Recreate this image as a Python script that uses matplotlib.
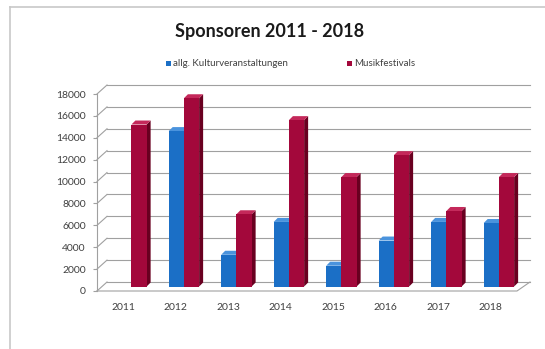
import matplotlib
matplotlib.use("Agg")
import matplotlib.pyplot as plt
import matplotlib.transforms as mtransforms
from matplotlib.patches import Polygon, Rectangle
from matplotlib.lines import Line2D
import numpy as np

years = ["2011", "2012", "2013", "2014", "2015", "2016", "2017", "2018"]
kultur = [0, 14200, 2900, 5900, 1900, 4200, 5900, 5800]
musik = [14800, 17200, 6600, 15200, 10000, 12000, 6900, 10000]
series_names = ["allg. Kulturveranstaltungen", "Musikfestivals"]
yticks = list(range(0, 18001, 2000))
title = "Sponsoren 2011 - 2018"

FONT = "Lato"
W, H = 545, 349
fig = plt.figure(figsize=(W / 100, H / 100), dpi=100)
fig.patch.set_facecolor("white")

ident = mtransforms.IdentityTransform()
# chart frame (top & left border)
fig.add_artist(Line2D([10, W], [H - 7, H - 7], transform=ident, color="#c8c8c8", lw=1.2))
fig.add_artist(Line2D([10, 10], [0, H - 7], transform=ident, color="#c8c8c8", lw=1.2))

ax = fig.add_axes([97 / W, 58 / H, 420 / W, 197 / H])
ax.set_xlim(-0.5, len(years) - 0.5)
ax.set_ylim(0, 18000)
ax.patch.set_alpha(0)
for s in ax.spines.values():
    s.set_visible(False)

grid_c = "#a0a0a0"
DX, DY = 10, 9      # wall depth (px)
MX, MY = 5, 4.5     # bars at mid depth
BX, BY = 4, 4       # bar depth

def disp(x, y):
    return ax.transData.transform((x, y))

x0, x1 = -0.5, len(years) - 0.5
# back wall gridlines and left wall diagonals
for v in yticks:
    a = disp(x0, v); b = disp(x1, v)
    fig.add_artist(Line2D([a[0] + DX, b[0] + DX + 3], [a[1] + DY, b[1] + DY],
                          transform=ident, color=grid_c, lw=0.8, zorder=1))
    fig.add_artist(Line2D([a[0], a[0] + DX], [a[1], a[1] + DY],
                          transform=ident, color=grid_c, lw=0.8, zorder=1))
# front left edge
a = disp(x0, 0); t = disp(x0, 18000)
fig.add_artist(Line2D([a[0], t[0]], [a[1], t[1]], transform=ident, color=grid_c, lw=0.8))
# floor front and right edge
b = disp(x1, 0)
fig.add_artist(Line2D([a[0], b[0], b[0] + DX + 3], [a[1], b[1], b[1] + DY],
                      transform=ident, color=grid_c, lw=0.8))

# bars
bw = 0.29
cols = [("#1b6fc6", "#0e4a88", "#4a93dd"), ("#a3083b", "#690020", "#c4285a")]
z = 3
for i in range(len(years)):
    for k, vals in enumerate([kultur, musik]):
        v = vals[i]
        if v <= 0:
            continue
        left = i - bw + k * bw + 0.06
        right = left + bw
        front, side, top = cols[k]
        off = np.array([MX, MY])
        p0 = disp(left, 0) + off; p1 = disp(right, 0) + off
        p2 = disp(right, v) + off; p3 = disp(left, v) + off
        d = np.array([BX, BY])
        fig.add_artist(Polygon([p1, p2, p2 + d, p1 + d], closed=True, transform=ident,
                               facecolor=side, edgecolor="none", zorder=z))
        fig.add_artist(Polygon([p3, p2, p2 + d, p3 + d], closed=True, transform=ident,
                               facecolor=top, edgecolor="none", zorder=z))
        fig.add_artist(Polygon([p0, p1, p2, p3], closed=True, transform=ident,
                               facecolor=front, edgecolor="none", zorder=z + 0.5))
        z += 1

# ticks
ax.set_yticks(yticks)
ax.set_yticklabels([str(v) for v in yticks], fontsize=7.5, fontfamily=FONT, color="#404040")
ax.tick_params(axis="y", length=3, color=grid_c, pad=5, width=0.8)
ax.set_xticks(range(len(years)))
ax.set_xticklabels(years, fontsize=7.5, fontfamily=FONT, color="#404040")
ax.tick_params(axis="x", length=0, pad=9)

# title
fig.text(270 / W, 1 - 31 / H, title, ha="center", va="center", fontsize=13,
         fontweight="bold", fontfamily=FONT, color="#1a1a1a")
# legend
lx = [168, 349]
for k, name in enumerate(series_names):
    fig.add_artist(Rectangle(((lx[k] - 2.5), H - 63 - 2.5), 5, 5, transform=ident,
                             facecolor=cols[k][0], edgecolor="none"))
    fig.text((lx[k] + 5) / W, 1 - 63 / H, name, ha="left", va="center", fontsize=7,
             fontfamily=FONT, color="#404040")

fig.savefig("out.png", dpi=100, facecolor="white")
